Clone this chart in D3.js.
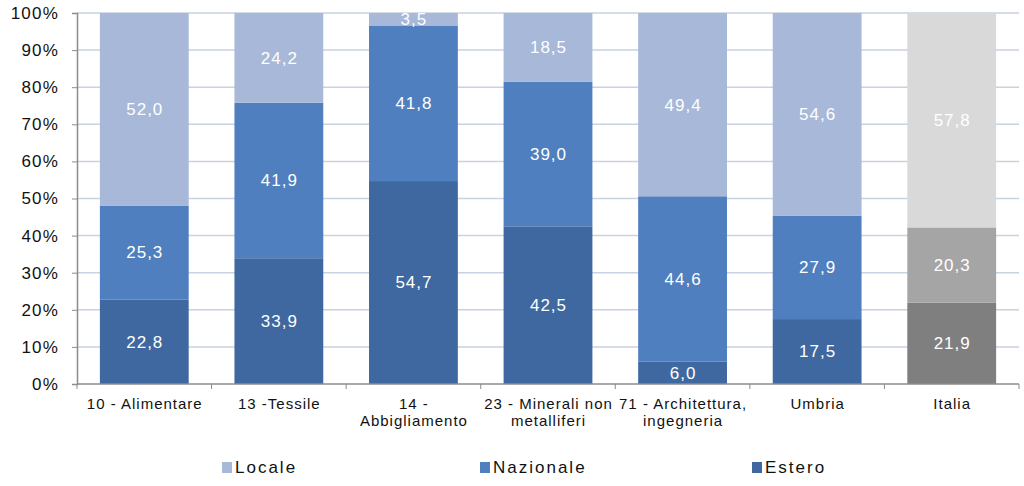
<!DOCTYPE html>
<html><head><meta charset="utf-8">
<script src="https://cdn.jsdelivr.net/npm/d3@7"></script>
<style>body{margin:0;background:#fff}svg{display:block;font-family:"Liberation Sans",Arial,sans-serif}</style>
</head><body><svg id="c" width="1024" height="486"></svg>
<script>
const categories = [["10 - Alimentare"],["13 -Tessile"],["14 -","Abbigliamento"],["23 - Minerali non","metalliferi"],["71 - Architettura,","ingegneria"],["Umbria"],["Italia"]];
const estero = [22.8, 33.9, 54.7, 42.5, 6.0, 17.5, 21.9];
const nazionale = [25.3, 41.9, 41.8, 39.0, 44.6, 27.9, 20.3];
const locale = [52.0, 24.2, 3.5, 18.5, 49.4, 54.6, 57.8];
const seriesNames = ["Estero","Nazionale","Locale"];
const yTicks = [0,10,20,30,40,50,60,70,80,90,100];
const colors = {Estero:"#3f68a0", Nazionale:"#4f7fbe", Locale:"#a7b8d8"};
const grayColors = {Estero:"#7f7f7f", Nazionale:"#a5a5a5", Locale:"#d9d9d9"};

const svg = d3.select("#c");
const L = 77, R = 1019, T = 13, B = 384;
const x = d3.scaleBand().domain(d3.range(categories.length)).range([L, R]).paddingInner(0.34).paddingOuter(0.17);
const y = d3.scaleLinear().domain([0, 100]).range([B, T]);

// gridlines
svg.append("g").selectAll("line").data(yTicks.filter(d => d > 0)).join("line")
  .attr("x1", L).attr("x2", R).attr("y1", d => y(d)).attr("y2", d => y(d))
  .attr("stroke", "#c9d2e2").attr("stroke-width", 1.5);

const data = categories.map((c, i) => ({i, Estero: estero[i], Nazionale: nazionale[i], Locale: locale[i]}));
const stack = d3.stack().keys(seriesNames)(data);

const g = svg.append("g");
stack.forEach(s => {
  g.selectAll(null).data(s).join("rect")
    .attr("x", d => x(d.data.i)).attr("width", x.bandwidth())
    .attr("y", d => y(Math.min(d[1], 100))).attr("height", d => y(d[0]) - y(Math.min(d[1], 100)))
    .attr("fill", d => d.data.i === categories.length - 1 ? grayColors[s.key] : colors[s.key]);
  g.selectAll(null).data(s).join("text")
    .attr("x", d => x(d.data.i) + x.bandwidth() / 2 + 0.5)
    .attr("y", d => y((d[0] + Math.min(d[1], 100)) / 2))
    .attr("dy", "0.35em").attr("text-anchor", "middle")
    .attr("fill", "#fff").attr("font-size", 17).attr("letter-spacing", 1)
    .text(d => d3.format(".1f")(d.data[s.key]).replace(".", ","));
});

// y axis
const ya = svg.append("g").attr("transform", `translate(${L},0)`)
  .call(d3.axisLeft(y).tickValues(yTicks).tickFormat(d => d + "%").tickSize(5).tickPadding(13));
ya.select(".domain").attr("stroke", "#8c8c8c").attr("stroke-width", 1.5);
ya.selectAll(".tick line").attr("stroke", "#8c8c8c");
ya.selectAll("text").attr("font-size", 17).attr("letter-spacing", 1.2).attr("fill", "#111").attr("font-family", "Liberation Sans, Arial, sans-serif");

// x axis
const xa = svg.append("g").attr("transform", `translate(0,${B})`);
xa.append("line").attr("x1", L).attr("x2", R).attr("stroke", "#8c8c8c").attr("stroke-width", 1.5);
const bounds = d3.range(categories.length + 1).map(i => i < categories.length ? x(i) - x.step() * x.paddingInner() / 2 : x(i - 1) + x.bandwidth() + x.step() * x.paddingInner() / 2);
xa.selectAll(".tk").data(bounds).join("line").attr("class", "tk")
  .attr("x1", d => d).attr("x2", d => d).attr("y1", 0).attr("y2", 5).attr("stroke", "#8c8c8c");
xa.selectAll(".lbl").data(categories).join("text").attr("class", "lbl")
  .attr("text-anchor", "middle").attr("font-size", 15).attr("letter-spacing", 1).attr("fill", "#111")
  .each(function(lines, i) {
    d3.select(this).selectAll("tspan").data(lines).join("tspan")
      .attr("x", x(i) + x.bandwidth() / 2 + 0.5).attr("y", (d, k) => 25 + k * 17).text(d => d);
  });

// legend
const legendItems = [["Locale", 222], ["Nazionale", 480], ["Estero", 752]];
const lg = svg.append("g");
legendItems.forEach(([k, lx]) => {
  lg.append("rect").attr("x", lx).attr("y", 462).attr("width", 10).attr("height", 11).attr("fill", colors[k]);
  lg.append("text").attr("x", lx + 13).attr("y", 473).attr("font-size", 17).attr("letter-spacing", 2).attr("fill", "#111").text(k);
});
</script></body></html>
